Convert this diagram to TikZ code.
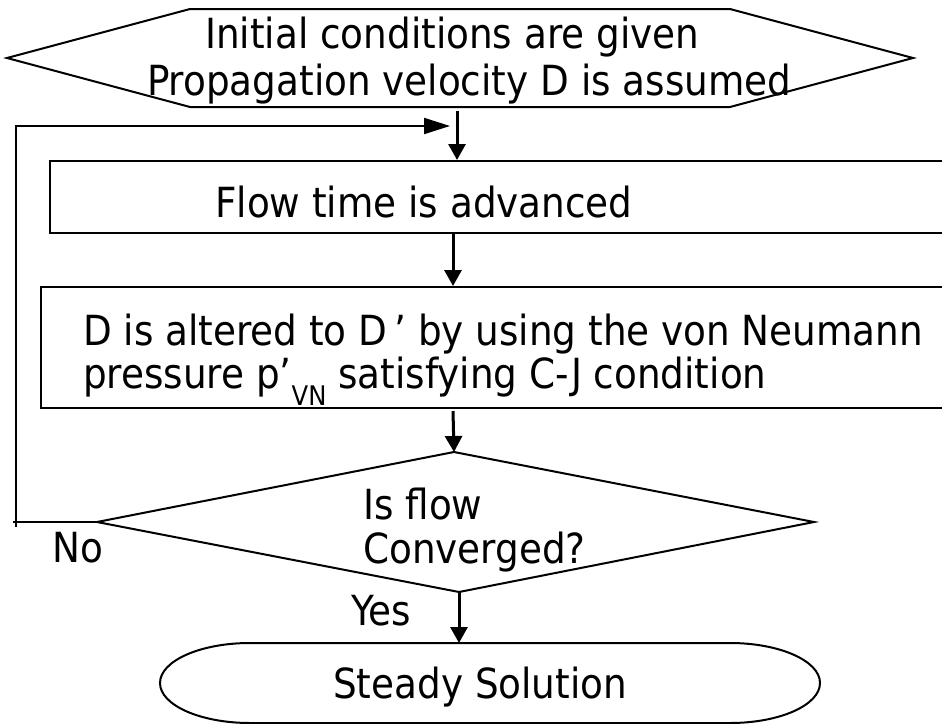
\documentclass[tikz,border=0pt]{standalone}
\usepackage{fontspec}
\setmainfont{DejaVu Sans Condensed}
\usetikzlibrary{arrows.meta}
\begin{document}
\begin{tikzpicture}[x=1pt,y=-1pt,
  shapeline/.style={line width=2pt},
  flowarrow/.style={line width=3pt,-{Triangle[length=16pt,width=17pt]}},
  looparrow/.style={line width=2.2pt,-{Triangle[length=26pt,width=16pt]}},
  txt/.style={anchor=base west,inner sep=0pt,font=\fontsize{41.5}{48}\selectfont}]
\useasboundingbox (0,0) rectangle (942,723);
\clip (0,0) rectangle (942,723);
% start hexagon
\draw[shapeline] (7,58) -- (190,9) -- (730,9) -- (913,58) -- (730,107) -- (190,107) -- cycle;
\coordinate (hexb) at (457,111);
\node[txt] (t1) at (205,48) {Initial conditions are given};
\node[txt] (t2) at (147,95) {Propagation velocity D is assumed};
% box 1
\draw[shapeline] (50,161) rectangle (960,233);
\coordinate (b1t) at (457,160);
\coordinate (b1b) at (453,234);
\node[txt] (t3) at (215,217) {Flow time is advanced};
% box 2
\draw[shapeline] (41,287) rectangle (960,408);
\coordinate (b2t) at (453,286);
\coordinate (b2b) at (453,411);
\node[txt] (t4) at (83,345) {D is altered to D\,’ by using the von Neumann};
\node[txt] (t5) at (83,388) {pressure p’\raisebox{-17pt}{\fontsize{27}{30}\selectfont VN} satisfying C-J condition};
% diamond
\coordinate (dt) at (454,452);
\coordinate (dl) at (97,522);
\coordinate (dr) at (814,522);
\coordinate (db) at (459,592);
\draw[shapeline] (dt) -- (dr) -- (db) -- (dl) -- cycle;
\node[txt] (t6) at (363,519) {Is flow};
\node[txt] (t7) at (363,563) {Converged?};
\node[txt] (no) at (52,562) {No};
\node[txt] (yes) at (351,625) {Yes};
% terminal
\coordinate (st) at (459,643);
\draw[shapeline] (250,643) -- (730,643)
  .. controls (779.7,643) and (820,660.9) .. (820,683)
  .. controls (820,705.1) and (779.7,723) .. (730,723)
  -- (250,723)
  .. controls (200.3,723) and (160,705.1) .. (160,683)
  .. controls (160,660.9) and (200.3,643) .. (250,643) -- cycle;
\node[txt] (t8) at (333,698) {Steady Solution};
% connectors
\draw[flowarrow] (hexb) -- (b1t);
\draw[flowarrow] (b1b) -- (b2t);
\draw[flowarrow] (b2b) -- (dt);
\draw[flowarrow] (db) -- (st);
\coordinate (lc1) at (16,522);
\coordinate (lc2) at (16,126);
\coordinate (lend) at (450,126);
\draw[line width=2pt] (dl) -- (13,522);
\draw[line width=2pt] (16,527) -- (lc1);
\draw[looparrow] (dl) -- (lc1) -- (lc2) -- (lend);
\end{tikzpicture}
\end{document}
